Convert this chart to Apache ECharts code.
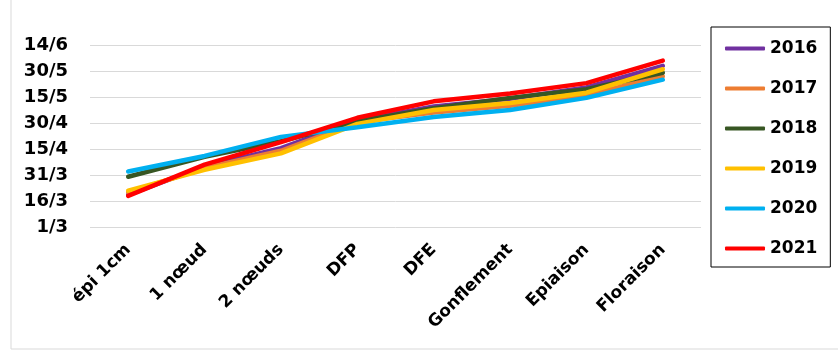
<!DOCTYPE html>
<html>
<head>
<meta charset="utf-8">
<script src="https://cdn.jsdelivr.net/npm/echarts@6/dist/echarts.min.js"></script>
<style>
html, body { margin: 0; padding: 0; background: #fff; }
#chart { width: 838px; height: 352px; }
</style>
</head>
<body>
<div id="chart"></div>
<script>
// stades and tick labels (days counted from 1/3)
var stades = ['épi 1cm', '1 nœud', '2 nœuds', 'DFP', 'DFE', 'Gonflement', 'Epiaison', 'Floraison'];
var dateLabels = ['1/3', '16/3', '31/3', '15/4', '30/4', '15/5', '30/5', '14/6'];

var y2016 = [18.5, 35, 45.5, 61.5, 69.5, 74, 80.5, 93];
var y2017 = [20, 34, 44, 60.5, 66, 70, 76, 87];
var y2018 = [29, 40.5, 49.5, 61, 68.5, 74.5, 79.5, 89];
var y2019 = [21, 33, 42.5, 59.5, 67.5, 71.5, 77.5, 91];
var y2020 = [32, 41, 52, 57.5, 63.5, 67.5, 74.5, 85];
var y2021 = [18, 36, 49, 63, 72.5, 77, 83, 96];

var years = ['2016', '2017', '2018', '2019', '2020', '2021'];
var colors = ['#7030a0', '#ed7d31', '#375623', '#ffc000', '#00b0f0', '#ff0000'];
var values = [y2016, y2017, y2018, y2019, y2020, y2021];

var font = 'DejaVu Sans';

var chart = echarts.init(document.getElementById('chart'));

var series = years.map(function(y, i) {
    return {
        name: y,
        type: 'line',
        data: values[i],
        showSymbol: false,
        symbol: 'none',
        lineStyle: { color: colors[i], width: 4.5, cap: 'round' },
        itemStyle: { color: colors[i] },
        animation: false
    };
});

var option = {
    animation: false,
    grid: {
        left: 90,
        right: 137,
        top: 45,
        bottom: 125
    },
    graphic: [{
        type: 'rect',
        shape: { x: 11, y: -5, width: 840, height: 354 },
        style: { fill: 'none', stroke: '#d9d9d9', lineWidth: 1 }
    }],
    legend: {
        orient: 'vertical',
        left: 711,
        top: 27,
        padding: [13, 13, 10, 14],
        borderColor: '#000',
        borderWidth: 1,
        itemWidth: 40,
        itemHeight: 4,
        itemGap: 23,
        icon: 'roundRect',
        textStyle: { fontFamily: font, fontWeight: 'bold', fontSize: 17, color: '#000', lineHeight: 17 },
        data: years
    },
    xAxis: {
        type: 'category',
        data: stades,
        boundaryGap: true,
        axisLine: { show: false },
        axisTick: { show: false },
        axisLabel: {
            rotate: 45,
            margin: 20,
            interval: 0,
            fontFamily: font,
            fontWeight: 'bold',
            fontSize: 17,
            color: '#000'
        }
    },
    yAxis: {
        type: 'value',
        min: 0,
        max: 105,
        interval: 15,
        axisLine: { show: false },
        axisTick: { show: false },
        splitLine: { lineStyle: { color: '#d9d9d9', width: 1 } },
        axisLabel: {
            margin: 22,
            fontFamily: font,
            fontWeight: 'bold',
            fontSize: 18,
            color: '#000',
            formatter: function(v) {
                return dateLabels[Math.round(v / 15)];
            }
        }
    },
    series: series
};
chart.setOption(option);
</script>
</body>
</html>
